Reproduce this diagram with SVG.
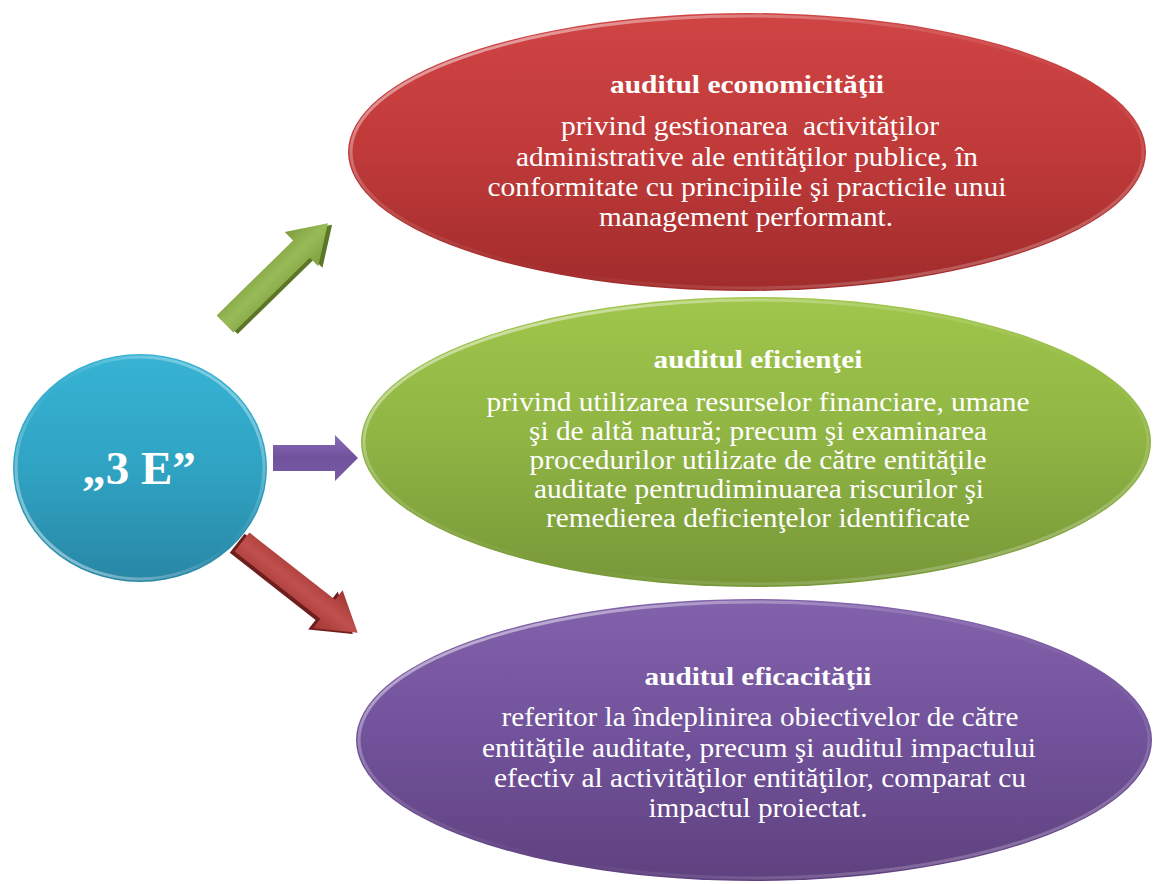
<svg xmlns="http://www.w3.org/2000/svg" width="1153" height="884" viewBox="0 0 1153 884">
<style>
.title{font-family:"Liberation Serif","Times New Roman",serif;font-weight:bold;font-size:25px;fill:#ffffff;text-anchor:middle}
.body{font-family:"Liberation Serif","Times New Roman",serif;font-size:27px;fill:#ffffff;text-anchor:middle}
.center{font-family:"Liberation Serif","Times New Roman",serif;font-weight:bold;font-size:47px;fill:#ffffff;text-anchor:middle}
.rim{fill:none;stroke-width:3}
</style>
<defs>
<linearGradient id="gRed" x1="0" y1="0" x2="0" y2="1">
<stop offset="0" stop-color="#d04444"/><stop offset="0.5" stop-color="#c03a3a"/><stop offset="1" stop-color="#a12b2b"/>
</linearGradient>
<linearGradient id="gGreen" x1="0" y1="0" x2="0" y2="1">
<stop offset="0" stop-color="#a0c64c"/><stop offset="0.5" stop-color="#8fb443"/><stop offset="1" stop-color="#779738"/>
</linearGradient>
<linearGradient id="gPurple" x1="0" y1="0" x2="0" y2="1">
<stop offset="0" stop-color="#8262ab"/><stop offset="0.5" stop-color="#71529a"/><stop offset="1" stop-color="#5f417f"/>
</linearGradient>
<linearGradient id="gCyan" x1="0" y1="0" x2="0" y2="1">
<stop offset="0" stop-color="#37b3d4"/><stop offset="0.5" stop-color="#30a3c3"/><stop offset="1" stop-color="#2887a5"/>
</linearGradient>
<linearGradient id="gRim" x1="0" y1="0" x2="1" y2="1">
<stop offset="0" stop-color="#ffffff" stop-opacity="0.7"/><stop offset="0.35" stop-color="#ffffff" stop-opacity="0.15"/><stop offset="0.6" stop-color="#ffffff" stop-opacity="0"/><stop offset="1" stop-color="#ffffff" stop-opacity="0.35"/>
</linearGradient>
<linearGradient id="gRimL" x1="1" y1="0" x2="0" y2="1">
<stop offset="0" stop-color="#ffffff" stop-opacity="0.5"/><stop offset="0.5" stop-color="#ffffff" stop-opacity="0"/><stop offset="1" stop-color="#ffffff" stop-opacity="0.6"/>
</linearGradient>
<linearGradient id="aGreen" x1="0" y1="0" x2="0" y2="1">
<stop offset="0" stop-color="#7f9e3f"/><stop offset="0.5" stop-color="#98bb57"/><stop offset="1" stop-color="#7f9e3f"/>
</linearGradient>
<linearGradient id="aPurple" x1="0" y1="0" x2="0" y2="1">
<stop offset="0" stop-color="#8a6bb8"/><stop offset="0.5" stop-color="#6f519c"/><stop offset="1" stop-color="#7a5ca8"/>
</linearGradient>
<linearGradient id="aRed" x1="0" y1="0" x2="0" y2="1">
<stop offset="0" stop-color="#a23634"/><stop offset="0.5" stop-color="#c0504d"/><stop offset="1" stop-color="#a23634"/>
</linearGradient>
</defs>
<rect width="1153" height="884" fill="#ffffff"/>

<g id="connectors">
<g id="arrow-green" transform="translate(225,324) rotate(-44.4)">
<path d="M0,-12 L107,-12 L107,-24 L144,0 L107,24 L107,12 L0,12 Z" fill="#5b7627" transform="translate(2,4)"/>
<path d="M0,-12 L107,-12 L107,-24 L144,0 L107,24 L107,12 L0,12 Z" fill="url(#aGreen)"/>
</g>
<g id="arrow-purple">
<path d="M273,445 L335,445 L335,435 L358,458 L335,481 L335,471 L273,471 Z" fill="url(#aPurple)"/>
</g>
<g id="arrow-red" transform="translate(242,542) rotate(38.1)">
<path d="M0,-12 L109,-12 L109,-24 L147,0 L109,24 L109,12 L0,12 Z" fill="#6e1f1d" transform="translate(-3,4)"/>
<path d="M0,-12 L109,-12 L109,-24 L147,0 L109,24 L109,12 L0,12 Z" fill="url(#aRed)"/>
</g>
</g>

<g id="node-center">
<ellipse cx="140" cy="468" rx="127" ry="114" fill="url(#gCyan)"/>
<ellipse cx="140" cy="468" rx="124" ry="111" class="rim" stroke="url(#gRimL)"/>
<text class="center" x="139" y="484">„3 E”</text>
</g>

<g id="node-economicitate">
<ellipse cx="747" cy="152" rx="399" ry="139" fill="url(#gRed)"/>
<ellipse cx="747" cy="152" rx="396" ry="136" class="rim" stroke="url(#gRim)"/>
<text class="title" x="747" y="93" textLength="274" lengthAdjust="spacingAndGlyphs">auditul economicităţii</text>
<text class="body" x="750" y="135" textLength="378" lengthAdjust="spacingAndGlyphs" xml:space="preserve">privind gestionarea  activităţilor</text>
<text class="body" x="747" y="166" textLength="462" lengthAdjust="spacingAndGlyphs">administrative ale entităţilor publice, în</text>
<text class="body" x="747" y="196" textLength="519" lengthAdjust="spacingAndGlyphs">conformitate cu principiile şi practicile unui</text>
<text class="body" x="746" y="226" textLength="294" lengthAdjust="spacingAndGlyphs">management performant.</text>
</g>

<g id="node-eficienta">
<ellipse cx="756" cy="442" rx="395" ry="145" fill="url(#gGreen)"/>
<ellipse cx="756" cy="442" rx="392" ry="142" class="rim" stroke="url(#gRim)"/>
<text class="title" x="758" y="368" textLength="209" lengthAdjust="spacingAndGlyphs">auditul eficienţei</text>
<text class="body" x="758" y="411" textLength="543" lengthAdjust="spacingAndGlyphs">privind utilizarea resurselor financiare, umane</text>
<text class="body" x="758" y="440" textLength="458" lengthAdjust="spacingAndGlyphs">şi de altă natură; precum şi examinarea</text>
<text class="body" x="758" y="469" textLength="457" lengthAdjust="spacingAndGlyphs">procedurilor utilizate de către entităţile</text>
<text class="body" x="759" y="498" textLength="450" lengthAdjust="spacingAndGlyphs">auditate pentrudiminuarea riscurilor şi</text>
<text class="body" x="758" y="527" textLength="424" lengthAdjust="spacingAndGlyphs">remedierea deficienţelor identificate</text>
</g>

<g id="node-eficacitate">
<ellipse cx="754" cy="740" rx="398" ry="141" fill="url(#gPurple)"/>
<ellipse cx="754" cy="740" rx="395" ry="138" class="rim" stroke="url(#gRim)"/>
<text class="title" x="758" y="685" textLength="227" lengthAdjust="spacingAndGlyphs">auditul eficacităţii</text>
<text class="body" x="760" y="726" textLength="517" lengthAdjust="spacingAndGlyphs">referitor la îndeplinirea obiectivelor de către</text>
<text class="body" x="759" y="757" textLength="554" lengthAdjust="spacingAndGlyphs">entităţile auditate, precum şi auditul impactului</text>
<text class="body" x="760" y="787" textLength="532" lengthAdjust="spacingAndGlyphs">efectiv al activităţilor entităţilor, comparat cu</text>
<text class="body" x="758" y="817" textLength="219" lengthAdjust="spacingAndGlyphs">impactul proiectat.</text>
</g>
</svg>
